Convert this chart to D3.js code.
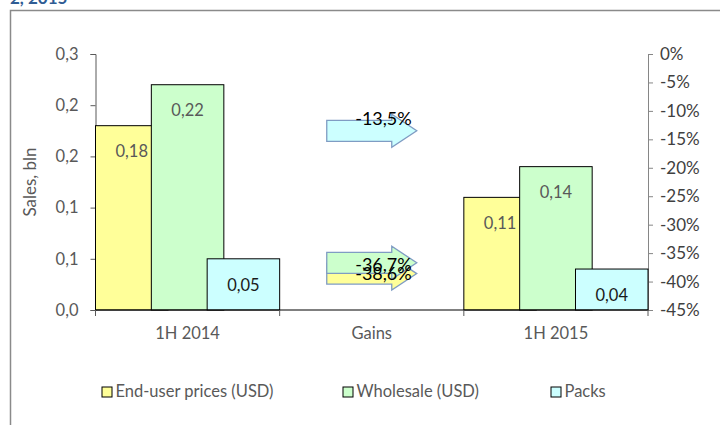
<!DOCTYPE html>
<html>
<head>
<meta charset="utf-8">
<script src="https://cdn.jsdelivr.net/npm/d3@7"></script>
<style>
  html, body { margin: 0; padding: 0; background: #fff; }
  svg { display: block; font-family: Lato, "Open Sans", sans-serif; }
</style>
</head>
<body>
<svg id="chart"></svg>
<script>
// chart values
const categories = ["1H 2014", "Gains", "1H 2015"];
const seriesNames = ["End-user prices (USD)", "Wholesale (USD)", "Packs"];
const seriesColors = ["#ffff99", "#ccffcc", "#ccffff"];
const sales2014 = [0.18, 0.22, 0.05];
const sales2015 = [0.11, 0.14, 0.04];
const gainValues = [-38.6, -36.7, -13.5];
const gainLabels = ["-38,6%", "-36,7%", "-13,5%"];
const leftTicks = [0, 0.05, 0.1, 0.15, 0.2, 0.25];
const leftTickLabels = ["0,0", "0,1", "0,1", "0,2", "0,2", "0,3"];
const rightTicks = [0, -5, -10, -15, -20, -25, -30, -35, -40, -45];
const rightTickLabels = ["0%", "-5%", "-10%", "-15%", "-20%", "-25%", "-30%", "-35%", "-40%", "-45%"];

const width = 720;
const height = 425;
const margin = { top: 54, right: 72, bottom: 115, left: 95.5 };
const textColor = "#595959";

const svg = d3.select("#chart")
    .attr("width", width)
    .attr("height", height);

// cut-off title and outer frame
svg.append("text")
    .attr("x", 10)
    .attr("y", 3.5)
    .attr("fill", "#2f5c94")
    .attr("font-size", "17px")
    .attr("font-weight", "bold")
    .text("2, 2015");

svg.append("path")
    .attr("d", `M10.5,${height}V10.5H${width}`)
    .attr("fill", "none")
    .attr("stroke", "#8a8a8a")
    .attr("stroke-width", 1.5);

const x = d3.scaleBand()
    .domain(categories)
    .range([margin.left, width - margin.right])
    .paddingInner(0)
    .paddingOuter(0);

const y = d3.scaleLinear()
    .domain([0, 0.25])
    .range([height - margin.bottom, margin.top]);

const y2 = d3.scaleLinear()
    .domain([-45, 0])
    .range([height - margin.bottom, margin.top]);

// left axis
const leftAxis = svg.append("g")
    .attr("transform", `translate(${margin.left},0)`)
    .call(d3.axisLeft(y)
        .tickValues(leftTicks)
        .tickSizeOuter(0)
        .tickSize(5)
        .tickPadding(12)
        .tickFormat((d, i) => leftTickLabels[i]));
leftAxis.select(".domain").attr("stroke", "#595959");
leftAxis.selectAll(".tick line").attr("stroke", "#595959");
leftAxis.selectAll("text")
    .attr("fill", textColor)
    .attr("font-size", "16.5px")
    .attr("font-family", "Lato, sans-serif");

// right axis
const rightAxis = svg.append("g")
    .attr("transform", `translate(${width - margin.right},0)`)
    .call(d3.axisRight(y2)
        .tickValues(rightTicks)
        .tickSizeOuter(0)
        .tickSize(5)
        .tickPadding(7)
        .tickFormat((d, i) => rightTickLabels[i]));
rightAxis.select(".domain").attr("stroke", "#868686");
rightAxis.selectAll(".tick line").attr("stroke", "#868686");
rightAxis.selectAll("text")
    .attr("fill", "#404040")
    .attr("font-size", "17px")
    .attr("font-family", "Lato, sans-serif");

svg.append("text")
    .attr("transform", `translate(30,${(margin.top + height - margin.bottom) / 2}) rotate(-90)`)
    .attr("text-anchor", "middle")
    .attr("dy", "0.35em")
    .attr("fill", textColor)
    .attr("font-size", "17px")
    .text("Sales, bln");

// bars, overlapping like the Excel series overlap
const overlap = 0.23;
const barWidth = x.bandwidth() / (seriesNames.length - (seriesNames.length - 1) * overlap);
const barStep = barWidth * (1 - overlap);

const periods = [
    { cat: "1H 2014", values: sales2014 },
    { cat: "1H 2015", values: sales2015 }
];

periods.forEach(p => {
    const g = svg.append("g");
    p.values.forEach((v, i) => {
        const bx = x(p.cat) + i * barStep;
        g.append("rect")
            .attr("x", bx)
            .attr("y", y(v))
            .attr("width", barWidth)
            .attr("height", y(0) - y(v))
            .attr("fill", seriesColors[i])
            .attr("stroke", "#000")
            .attr("stroke-width", 1);
    });
    p.values.forEach((v, i) => {
        const bx = x(p.cat) + i * barStep;
        g.append("text")
            .attr("x", bx + barWidth / 2)
            .attr("y", y(v) + 26)
            .attr("dy", "0.35em")
            .attr("text-anchor", "middle")
            .attr("fill", i === 2 ? "#1a1a1a" : textColor)
            .attr("font-size", "16.5px")
            .text(v.toFixed(2).replace(".", ","));
    });
});

// x axis
const xAxis = svg.append("g")
    .attr("transform", `translate(0,${y(0)})`);
xAxis.append("line")
    .attr("x1", margin.left)
    .attr("x2", width - margin.right)
    .attr("stroke", "#000");
const bounds = categories.map(c => x(c)).concat([x(categories[categories.length - 1]) + x.bandwidth()]);
xAxis.selectAll(".xtick")
    .data(bounds)
    .join("line")
    .attr("x1", d => d)
    .attr("x2", d => d)
    .attr("y1", 0)
    .attr("y2", 6)
    .attr("stroke", "#595959");
xAxis.selectAll(".xlabel")
    .data(categories)
    .join("text")
    .attr("x", d => x(d) + x.bandwidth() / 2)
    .attr("y", 29)
    .attr("text-anchor", "middle")
    .attr("fill", textColor)
    .attr("font-size", "16.5px")
    .text(d => d);

// gain arrows on the right axis
const gainX = x("Gains") + x.bandwidth() / 2;
const arrowPath = "M-45,-10.5H20V-16.5L45,0L20,16.5V10.5H-45Z";
const labelNudge = [6.5, 8, -5.5];

gainValues.forEach((v, i) => {
    svg.append("path")
        .attr("transform", `translate(${gainX},${y2(v)})`)
        .attr("d", arrowPath)
        .attr("fill", seriesColors[i])
        .attr("stroke", "#7f9cc3")
        .attr("stroke-width", 1.3);
});
gainValues.forEach((v, i) => {
    svg.append("text")
        .attr("x", gainX + 40)
        .attr("y", y2(v) + labelNudge[i])
        .attr("text-anchor", "end")
        .attr("fill", "#000")
        .attr("font-size", "18px")
        .text(gainLabels[i]);
});

// legend
const legendX = [102, 343, 551];
const legend = svg.append("g")
    .attr("transform", `translate(0,387)`);
seriesNames.forEach((name, i) => {
    legend.append("rect")
        .attr("x", legendX[i])
        .attr("y", 0)
        .attr("width", 10)
        .attr("height", 10)
        .attr("fill", seriesColors[i])
        .attr("stroke", "#000");
    legend.append("text")
        .attr("x", legendX[i] + 13.5)
        .attr("y", 10)
        .attr("fill", textColor)
        .attr("font-size", "16.5px")
        .text(name);
});
</script>
</body>
</html>
